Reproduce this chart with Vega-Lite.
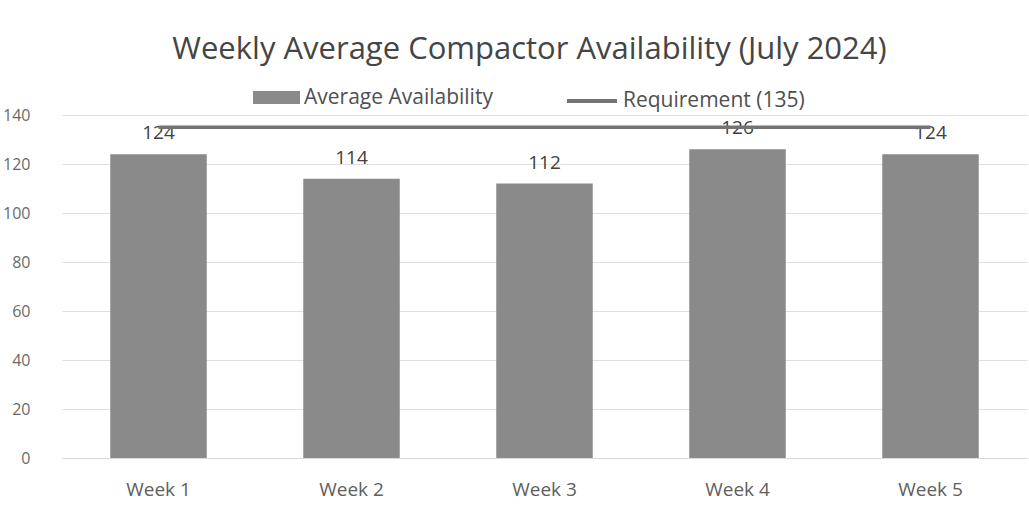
{
  "$schema": "https://vega.github.io/schema/vega-lite/v6.json",
  "width": 965,
  "height": 343,
  "autosize": {"type": "none"},
  "padding": {"left": 62, "top": 115, "right": 2, "bottom": 66},
  "background": "white",
  "title": {
    "text": "Weekly Average Compactor Availability (July 2024)",
    "font": "Open Sans",
    "fontSize": 31,
    "fontWeight": "normal",
    "color": "#454545",
    "anchor": "middle",
    "offset": 8,
    "dx": -15,
    "frame": "group"
  },
  "config": {
    "view": {"stroke": null},
    "font": "Open Sans",
    "legend": {"orient": "none", "labelFont": "Open Sans", "labelFontSize": 21, "labelColor": "#505050", "title": null, "padding": 0, "labelOffset": 4, "labelLimit": 0}
  },
  "data": {
    "values": [
      {"week": "Week 1", "value": 124, "req": 135},
      {"week": "Week 2", "value": 114, "req": 135},
      {"week": "Week 3", "value": 112, "req": 135},
      {"week": "Week 4", "value": 126, "req": 135},
      {"week": "Week 5", "value": 124, "req": 135}
    ]
  },
  "encoding": {
    "x": {
      "field": "week",
      "type": "nominal",
      "sort": null,
      "scale": {"paddingInner": 0.5, "paddingOuter": 0.25},
      "axis": {"title": null, "labelAngle": 0, "labelFontSize": 19, "labelColor": "#606060", "labelPadding": 22, "ticks": false, "domain": true, "domainColor": "#d9d9d9", "grid": false}
    }
  },
  "layer": [
    {
      "mark": {"type": "bar"},
      "encoding": {
        "y": {
          "field": "value",
          "type": "quantitative",
          "scale": {"domain": [0, 140]},
          "axis": {"title": null, "values": [0, 20, 40, 60, 80, 100, 120, 140], "labelFontSize": 16, "labelColor": "#6a6a6a", "labelPadding": 32, "ticks": false, "domain": false, "gridColor": "#e0e0e0"}
        },
        "fill": {
          "datum": "Average Availability",
          "type": "nominal",
          "scale": {"range": ["#8a8a8a"]},
          "legend": {"symbolType": "M-1,-0.28H1V0.28H-1Z", "symbolSize": 2209, "symbolStrokeWidth": 0, "legendX": 191, "legendY": -41}
        }
      }
    },
    {
      "mark": {"type": "text", "dy": -21, "fontSize": 19, "color": "#404040"},
      "encoding": {
        "y": {"field": "value", "type": "quantitative"},
        "text": {"field": "value", "type": "quantitative"}
      }
    },
    {
      "mark": {"type": "line", "strokeWidth": 3.5},
      "encoding": {
        "y": {"field": "req", "type": "quantitative"},
        "stroke": {
          "datum": "Requirement (135)",
          "type": "nominal",
          "scale": {"range": ["#737373"]},
          "legend": {"symbolType": "stroke", "symbolStrokeWidth": 4, "symbolSize": 2500, "legendX": 503, "legendY": -41}
        }
      }
    }
  ],
  "resolve": {"scale": {"fill": "independent", "stroke": "independent"}}
}
